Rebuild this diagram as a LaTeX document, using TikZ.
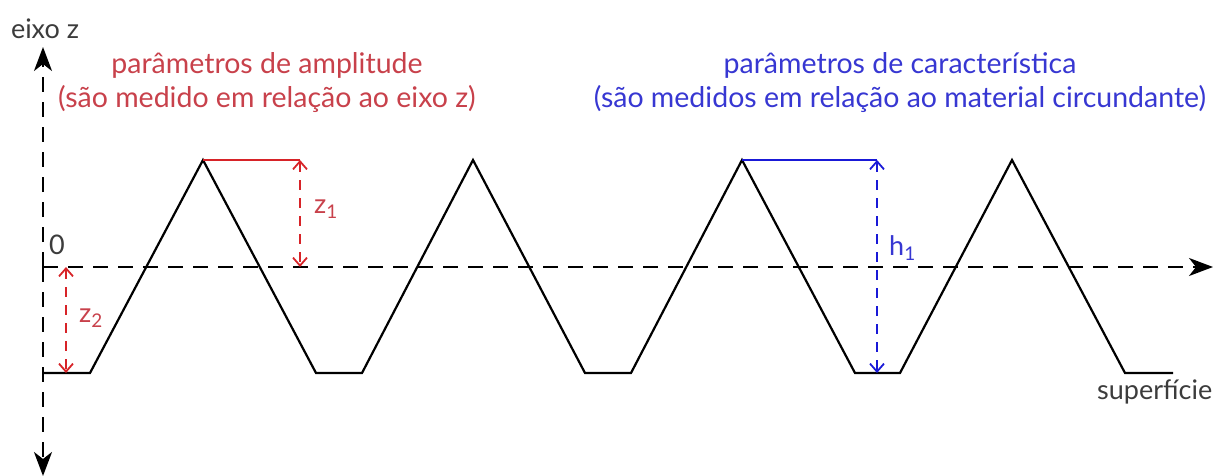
\documentclass[tikz,border=0pt]{standalone}
\usepackage{fontspec}
\setmainfont{Lato}
\usetikzlibrary{arrows.meta}
\definecolor{linered}{RGB}{215,35,40}
\definecolor{textred}{RGB}{200,65,75}
\definecolor{lineblue}{RGB}{25,25,215}
\definecolor{textblue}{RGB}{55,55,210}
\definecolor{textgray}{RGB}{60,60,60}
\begin{document}
\begin{tikzpicture}[x=1pt,y=-1pt,
  profile/.style={line width=2.2pt, line join=miter},
  axisline/.style={line width=2.2pt, dash pattern=on 15pt off 10pt,
     -{Stealth[length=24pt,width=18pt,inset=7pt]}},
  dimarrow/.style={line width=1.8pt, dash pattern=on 10pt off 8pt,
     {Straight Barb[length=8pt,width=14pt]}-{Straight Barb[length=8pt,width=14pt]}},
  reftop/.style={line width=1.8pt},
  title/.style={font=\fontsize{28.5}{34}\selectfont, align=center, inner sep=0pt},
  lbl/.style={font=\fontsize{27}{30}\selectfont, inner sep=0pt}]
\useasboundingbox (0,0) rectangle (1213,476);

% axes
\coordinate (o) at (43,267);
\coordinate (ztop) at (43,47);
\coordinate (zbot) at (43,476);
\coordinate (xend) at (1213,267);
\draw[axisline] (o) -- (ztop);
\draw[axisline] (o) -- (zbot);
\draw[axisline] (o) -- (xend);

% profile
\draw[profile] (43,373) -- (90,373) -- (203,160) -- (316,373) -- (362,373)
  -- (473,160) -- (585,373) -- (631,373) -- (742,160) -- (855,373)
  -- (900,373) -- (1012,160) -- (1125,373) -- (1173,373);

% amplitude parameters
\coordinate (p1) at (203,160);
\coordinate (z1a) at (300,160);
\coordinate (z1b) at (300,267);
\coordinate (z2a) at (66,267);
\coordinate (z2b) at (66,373);
\draw[reftop, linered] (p1) -- (z1a);
\draw[dimarrow, linered] (z1a) -- (z1b);
\draw[dimarrow, linered] (z2a) -- (z2b);

% characteristic parameters
\coordinate (p3) at (742,160);
\coordinate (h1a) at (877,160);
\coordinate (h1b) at (877,373);
\draw[reftop, lineblue] (p3) -- (h1a);
\draw[dimarrow, lineblue] (h1a) -- (h1b);

% labels
\node[lbl, textgray] (eixo) at (45,29) {eixo z};
\node[lbl, textgray] (zero) at (57,245) {0};
\node[lbl, textred, anchor=west] (lz1) at (314,209) {z\textsubscript{1}};
\node[lbl, textred, anchor=west] (lz2) at (79,318) {z\textsubscript{2}};
\node[lbl, textblue, anchor=west] (lh1) at (889,248) {h\textsubscript{1}};
\node[lbl, textgray, anchor=west] (sup) at (1097,392) {superfície};

\node[title, textred] (tamp) at (267,83) {parâmetros de amplitude\\(são medido em relação ao eixo z)};
\node[title, textblue] (tcar) at (900,83) {parâmetros de característica\\(são medidos em relação ao material circundante)};
\end{tikzpicture}
\end{document}
